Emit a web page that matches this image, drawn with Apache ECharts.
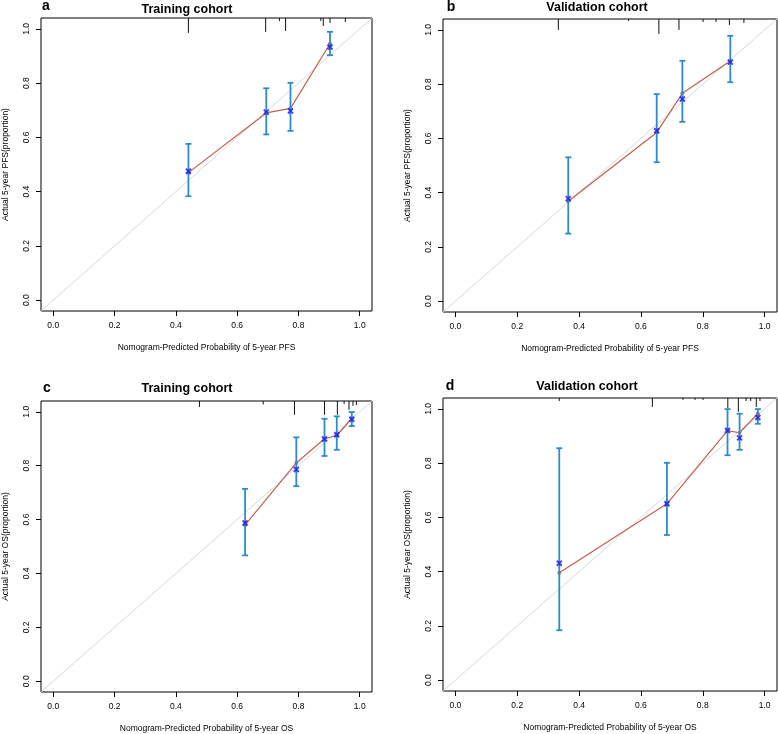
<!DOCTYPE html>
<html><head><meta charset="utf-8">
<script src="https://cdn.jsdelivr.net/npm/echarts@6/dist/echarts.min.js"></script>
<style>html,body{margin:0;padding:0;background:#fff}#c{width:778px;height:734px}</style>
</head><body><div id="c"></div>
<script>
// ---------- data ----------
const tickValues = [0, 0.2, 0.4, 0.6, 0.8, 1.0];
const AX_MIN = -0.04, AX_MAX = 1.04;

// panel a : Training cohort, PFS
const aPred = [0.441, 0.695, 0.774, 0.903];
const aObs  = [0.470, 0.690, 0.707, 0.945];
const aCorr = [0.475, 0.693, 0.697, 0.933];
const aLow  = [0.383, 0.611, 0.624, 0.903];
const aHigh = [0.576, 0.781, 0.801, 0.989];
const aRugX = [0.441, 0.693, 0.738, 0.758, 0.873, 0.881, 0.903, 0.953];
const aRugF = [1.00, 0.93, 0.20, 0.87, 0.20, 0.53, 0.33, 0.27];

// panel b : Validation cohort, PFS
const bPred = [0.365, 0.651, 0.734, 0.889];
const bObs  = [0.368, 0.622, 0.766, 0.885];
const bCorr = [0.378, 0.628, 0.745, 0.881];
const bLow  = [0.249, 0.512, 0.661, 0.807];
const bHigh = [0.530, 0.763, 0.886, 0.978];
const bRugX = [0.333, 0.560, 0.658, 0.723, 0.801, 0.843, 0.886, 0.933];
const bRugF = [0.73, 0.13, 1.00, 0.73, 0.20, 0.20, 0.40, 0.27];

// panel c : Training cohort, OS
const cPred = [0.626, 0.793, 0.885, 0.925, 0.974];
const cObs  = [0.580, 0.810, 0.900, 0.912, 0.975];
const cCorr = [0.587, 0.786, 0.899, 0.915, 0.972];
const cLow  = [0.467, 0.724, 0.836, 0.859, 0.947];
const cHigh = [0.714, 0.905, 0.974, 0.983, 0.999];
const cRugX = [0.477, 0.685, 0.787, 0.885, 0.927, 0.949, 0.965, 0.978, 0.989];
const cRugF = [0.40, 0.23, 0.93, 0.93, 0.93, 0.20, 0.60, 0.33, 0.27];

// panel d : Validation cohort, OS
const dPred = [0.336, 0.684, 0.880, 0.919, 0.978];
const dObs  = [0.396, 0.650, 0.920, 0.912, 0.982];
const dCorr = [0.431, 0.650, 0.920, 0.893, 0.968];
const dLow  = [0.184, 0.535, 0.829, 0.849, 0.945];
const dHigh = [0.855, 0.801, 0.999, 0.982, 0.999];
const dRugX = [0.336, 0.637, 0.736, 0.775, 0.801, 0.881, 0.915, 0.940, 0.955, 0.973, 0.985];
const dRugF = [0.20, 0.60, 0.13, 0.13, 0.13, 0.67, 0.93, 0.20, 0.20, 0.60, 0.20];

const panelTitles = ['Training cohort', 'Validation cohort', 'Training cohort', 'Validation cohort'];
const panelLetters = ['a', 'b', 'c', 'd'];
const xNames = ['Nomogram-Predicted Probability of 5-year PFS', 'Nomogram-Predicted Probability of 5-year PFS',
                'Nomogram-Predicted Probability of 5-year OS', 'Nomogram-Predicted Probability of 5-year OS'];
const yNames = ['Actual 5-year PFS(proportion)', 'Actual 5-year PFS(proportion)',
                'Actual 5-year OS(proportion)', 'Actual 5-year OS(proportion)'];

// ---------- layout / style ----------
const grids = [
  {left: 39,  top: 18,  width: 333, height: 293},
  {left: 443, top: 19,  width: 334, height: 293},
  {left: 39,  top: 401, width: 333, height: 292},
  {left: 443, top: 398, width: 334, height: 293}
];
const FONT = "'Liberation Sans', Arial, Helvetica, sans-serif";
const RED = '#c0604f', BLUE_BAR = '#2b8cc8', BLUE_X = '#1c1cf0', DIAG = '#d8d8d8';
const RUG_MAX = 0.055;

const panels = [
  {pred: aPred, obs: aObs, corr: aCorr, low: aLow, high: aHigh, rugX: aRugX, rugF: aRugF},
  {pred: bPred, obs: bObs, corr: bCorr, low: bLow, high: bHigh, rugX: bRugX, rugF: bRugF},
  {pred: cPred, obs: cObs, corr: cCorr, low: cLow, high: cHigh, rugX: cRugX, rugF: cRugF},
  {pred: dPred, obs: dObs, corr: dCorr, low: dLow, high: dHigh, rugX: dRugX, rugF: dRugF}
];

const option = {
  animation: false,
  backgroundColor: '#fff',
  grid: grids.map(g => Object.assign({show: true, borderColor: '#000', borderWidth: 1, backgroundColor: 'transparent'}, g)),
  xAxis: grids.map((g, i) => ({
    type: 'value', gridIndex: i, min: AX_MIN, max: AX_MAX, position: 'bottom',
    axisLine: {show: false, onZero: false},
    splitLine: {show: false},
    axisTick: {show: true, length: 5, customValues: tickValues, lineStyle: {color: '#000', width: 1}},
    axisLabel: {show: true, customValues: tickValues, margin: 10, fontSize: 8.5, fontFamily: FONT, color: '#000',
                formatter: v => v.toFixed(1)},
    name: xNames[i], nameLocation: 'middle', nameGap: 32,
    nameTextStyle: {fontSize: 8.5, fontFamily: FONT, color: '#000'}
  })),
  yAxis: grids.map((g, i) => ({
    type: 'value', gridIndex: i, min: AX_MIN, max: AX_MAX, position: 'left',
    axisLine: {show: false, onZero: false},
    splitLine: {show: false},
    axisTick: {show: true, length: 5, customValues: tickValues, lineStyle: {color: '#000', width: 1}},
    axisLabel: {show: true, customValues: tickValues, margin: 10, rotate: 90, fontSize: 8.5, fontFamily: FONT, color: '#000',
                formatter: v => v.toFixed(1)},
    name: yNames[i], nameLocation: 'middle', nameGap: 31,
    nameTextStyle: {fontSize: 8.5, fontFamily: FONT, color: '#000'}
  })),
  graphic: [],
  series: []
};

// titles and letters
const titlePos = [[187, 10], [597, 8], [187, 389], [587, 387]];
const letterPos = [[46, 6], [451, 7], [47, 388], [450, 386]];
titlePos.forEach((p, i) => {
  option.graphic.push({type: 'text', x: p[0], y: p[1],
    style: {text: panelTitles[i], font: `bold 12.5px ${FONT}`, fill: '#000', textAlign: 'center', textVerticalAlign: 'middle'}});
  option.graphic.push({type: 'text', x: letterPos[i][0], y: letterPos[i][1],
    style: {text: panelLetters[i], font: `bold 14px ${FONT}`, fill: '#000', textAlign: 'center', textVerticalAlign: 'middle'}});
});

panels.forEach((p, i) => {
  // ideal diagonal
  option.series.push({
    type: 'line', xAxisIndex: i, yAxisIndex: i, symbol: 'none', silent: true,
    lineStyle: {color: DIAG, width: 1}, data: [[AX_MIN, AX_MIN], [AX_MAX, AX_MAX]], z: 1
  });
  // rug of predictions at top
  option.series.push({
    type: 'custom', xAxisIndex: i, yAxisIndex: i, silent: true, z: 2,
    data: p.rugX.map((x, k) => [x, p.rugF[k]]),
    renderItem: (params, api) => {
      const x = api.value(0), f = api.value(1);
      const p0 = api.coord([x, AX_MAX]);
      const p1 = api.coord([x, AX_MAX - f * RUG_MAX]);
      return {type: 'line', shape: {x1: p0[0], y1: p0[1], x2: p1[0], y2: p1[1]},
              style: {stroke: '#111', lineWidth: 1}};
    }
  });
  // apparent calibration line
  option.series.push({
    type: 'line', xAxisIndex: i, yAxisIndex: i, silent: true, z: 3,
    data: p.pred.map((x, k) => [x, p.obs[k]]),
    lineStyle: {color: RED, width: 1.2},
    symbol: 'circle', symbolSize: 4, itemStyle: {color: '#b47a70'}
  });
  // error bars
  option.series.push({
    type: 'custom', xAxisIndex: i, yAxisIndex: i, silent: true, z: 4,
    data: p.pred.map((x, k) => [x, p.low[k], p.high[k]]),
    renderItem: (params, api) => {
      const x = api.value(0);
      const lo = api.coord([x, api.value(1)]);
      const hi = api.coord([x, api.value(2)]);
      const w = 3;
      const st = {stroke: BLUE_BAR, lineWidth: 1.8};
      return {type: 'group', children: [
        {type: 'line', shape: {x1: lo[0], y1: lo[1], x2: hi[0], y2: hi[1]}, style: st},
        {type: 'line', shape: {x1: lo[0] - w, y1: lo[1], x2: lo[0] + w, y2: lo[1]}, style: st},
        {type: 'line', shape: {x1: hi[0] - w, y1: hi[1], x2: hi[0] + w, y2: hi[1]}, style: st}
      ]};
    }
  });
  // bias-corrected estimates (blue x)
  option.series.push({
    type: 'scatter', xAxisIndex: i, yAxisIndex: i, silent: true, z: 5,
    data: p.pred.map((x, k) => [x, p.corr[k]]),
    symbol: 'path://M0,0L10,10M10,0L0,10', symbolSize: 5,
    itemStyle: {color: 'transparent', borderColor: BLUE_X, borderWidth: 2}
  });
});

const chart = echarts.init(document.getElementById('c'), null, {renderer: 'canvas'});
chart.setOption(option);
</script>
</body></html>
